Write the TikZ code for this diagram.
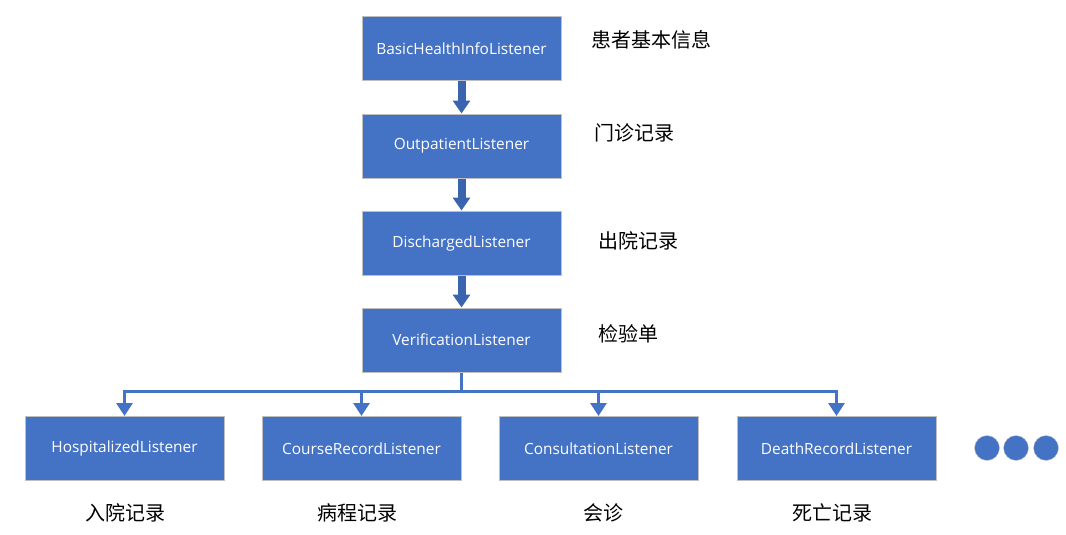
\documentclass[tikz,border=0pt]{standalone}
\usepackage{fontspec}
\setmainfont{Open Sans}
\newfontfamily\cjk{Noto Sans CJK SC}
\usetikzlibrary{positioning,arrows.meta}
\definecolor{boxblue}{HTML}{4472C4}
\definecolor{arrowblue}{HTML}{3B64AE}
\begin{document}
\begin{tikzpicture}[x=1pt,y=-1pt,
    listener/.style={rectangle,draw=black!25,line width=1pt,fill=boxblue,text=white,
        minimum width=199pt,minimum height=64pt,inner sep=0pt,font=\fontsize{15.4}{17}\selectfont},
    note/.style={font=\cjk\fontsize{20}{24}\selectfont},
    chain/.style={draw=arrowblue,line width=8pt,-{Triangle[width=17pt,length=13pt]}},
    branch/.style={draw=boxblue,line width=3pt,-{Triangle[width=16pt,length=13pt]}},
    dot/.style={circle,fill=boxblue,draw=black!20,minimum size=25pt,inner sep=0pt}]
    \useasboundingbox (0,0) rectangle (1066,535);
    \node[listener] (basic) at (461.5,49) {BasicHealthInfoListener};
    \node[listener,below=32pt of basic] (outp) {OutpatientListener};
    \node[listener,below=32pt of outp] (disch) {DischargedListener};
    \node[listener,below=32pt of disch] (verif) {VerificationListener};
    \node[listener] (hosp) at (124.5,448.5) {HospitalizedListener};
    \node[listener] (course) at (361.5,448.5) {CourseRecordListener};
    \node[listener] (consult) at (598.5,448.5) {ConsultationListener};
    \node[listener] (death) at (836.5,448.5) {DeathRecordListener};

    \node[note,anchor=west] (nbasic) at (588,40) {患者基本信息};
    \node[note,anchor=west] (noutp) at (591,133) {门诊记录};
    \node[note,anchor=west] (ndisch) at (595,241) {出院记录};
    \node[note,anchor=west] (nverif) at (595,334) {检验单};
    \node[note] (nhosp) at (125,513) {入院记录};
    \node[note] (ncourse) at (357,513) {病程记录};
    \node[note] (nconsult) at (603,513) {会诊};
    \node[note] (ndeath) at (832,513) {死亡记录};

    \node[dot] (d1) at (987,448) {};
    \node[dot] (d2) at (1016,448) {};
    \node[dot] (d3) at (1046,448) {};

    \draw[chain] (basic) -- (outp);
    \draw[chain] (outp) -- (disch);
    \draw[chain] (disch) -- (verif);
    \coordinate (fork) at (461.5,391);
    \draw[boxblue,line width=3pt] (verif) -- (fork);
    \foreach \n in {hosp,course,consult,death}
        \draw[branch] (fork) -| (\n.north);
\end{tikzpicture}
\end{document}
